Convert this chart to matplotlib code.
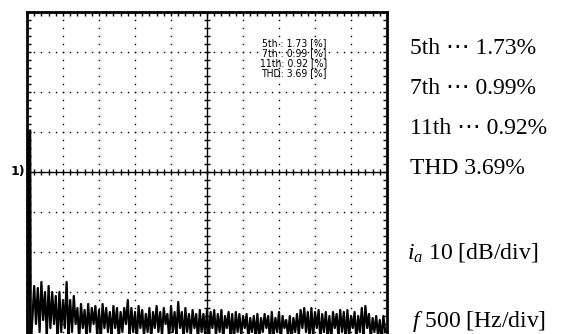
import numpy as np
import matplotlib
matplotlib.use("Agg")
import matplotlib.pyplot as plt

plt.rcParams['mathtext.fontset'] = 'custom'
plt.rcParams['mathtext.it'] = 'Liberation Serif:italic'
plt.rcParams['mathtext.rm'] = 'Liberation Serif'

# spectrum of phase current, 500 Hz/div, 10 dB/div (top of screen = 0 dB)
fund_freq = [0, 30, 36, 50, 58]
fund_db = [-82, -29.5, -81, -29.5, -82]

# peaks of the noise floor every 50 Hz from 100 Hz
noise_freq = list(range(100, 5000, 50))
noise_top = [-68.5, -69, -67.5, -70, -68.5, -70, -71, -70, -72, -67.5,
             -72, -71, -74, -73, -74.5, -73, -74, -73.5, -74.5, -73,
             -74, -75, -73.5, -74, -75, -74, -72, -74, -75, -73.5,
             -74.5, -75.5, -74, -75, -73.5, -75, -74, -75.5, -73.5, -75,
             -72.5, -75, -74, -75.5, -74.5, -75.5, -74.5, -75.5, -74.5, -75,
             -74.5, -75.5, -74.5, -76, -75, -75.5, -75, -75.5, -76, -75.5,
             -76.5, -76, -75.5, -76.5, -75.5, -76, -75, -76.5, -75, -76,
             -77, -76, -76.5, -75.5, -74.5, -74, -75, -74, -75, -74.5,
             -75.5, -75, -76, -75, -75.5, -74.5, -75, -74.5, -76, -75,
             -76, -74, -73.5, -75.5, -76.5, -76, -77, -76]
# dips between the peaks
noise_low = [-78, -80, -77, -81, -79, -78, -82, -80, -79, -81,
             -80, -78, -82, -79, -81, -80, -78, -81, -82, -79,
             -80, -81, -79, -82, -80, -78, -81, -80, -82, -79,
             -81, -80, -82, -79, -80, -81, -78, -82, -80, -81,
             -79, -82, -80, -81, -79, -82, -80, -81, -82, -79,
             -81, -80, -82, -79, -81, -82, -80, -81, -79, -82,
             -80, -81, -82, -80, -79, -82, -81, -80, -82, -79,
             -81, -82, -80, -81, -79, -80, -82, -81, -79, -82,
             -80, -81, -82, -79, -81, -80, -82, -81, -79, -82,
             -80, -81, -79, -82, -80, -81, -82, -80]

readout = ["5th : 1.73 [%]", "7th : 0.99 [%]", "11th: 0.92 [%]", "THD: 3.69 [%]"]
summary = ["5th \u22ef 1.73%", "7th \u22ef 0.99%", "11th \u22ef 0.92%", "THD 3.69%"]

W, H = 563, 334
fig = plt.figure(figsize=(W / 100, H / 100), dpi=100)
ax = fig.add_axes([27 / W, 0, 360 / W, 322 / H])
ax.set_xlim(0, 5000)
ax.set_ylim(-80.5, 0)

# trace
tr_f = list(fund_freq)
tr_d = list(fund_db)
for f, t, l in zip(noise_freq, noise_top, noise_low):
    tr_f += [f, f + 25]
    tr_d += [t, l]
ax.plot(tr_f[:5], tr_d[:5], color='black', lw=1.0, zorder=3)
ax.plot(tr_f[4:], tr_d[4:], color='black', lw=1.6, zorder=3)

# dotted graticule
for gx in range(500, 5000, 500):
    if gx == 2500:
        continue
    yy = np.arange(-80, 0.1, 2)
    ax.plot([gx] * len(yy), yy, ls='none', marker='s', ms=1.0, color='black', mew=0)
for gy in range(-70, 0, 10):
    if gy == -40:
        continue
    xx = np.arange(0, 5001, 100)
    ax.plot(xx, [gy] * len(xx), ls='none', marker='s', ms=1.0, color='black', mew=0)

# centre cross with ticks
ax.axvline(2500, color='black', lw=1.0)
ax.axhline(-40, color='black', lw=1.0)
yy = np.arange(-80, 0.1, 2)
ax.plot([2500] * len(yy), yy, ls='none', marker='_', ms=5, mew=1.0, color='black')
xx = np.arange(0, 5001, 100)
ax.plot(xx, [-40] * len(xx), ls='none', marker='|', ms=5, mew=1.0, color='black')

ax.set_xticks(range(0, 5001, 500))
ax.set_xticks(range(0, 5001, 100), minor=True)
ax.set_yticks(range(-80, 1, 10))
ax.set_yticks(range(-80, 1, 2), minor=True)
ax.tick_params(which='both', direction='in', length=3, width=1,
               top=True, right=True, bottom=False,
               labelbottom=False, labelleft=False)
for s in ['left', 'top', 'right']:
    ax.spines[s].set_linewidth(2)
ax.spines['bottom'].set_visible(False)

# on-screen readout
for i, s in enumerate(readout):
    fig.text(327 / W, 1 - (43 + 10 * i) / H, s, ha='right', va='center',
             fontsize=7.5, fontstretch='condensed', family='DejaVu Sans')

# channel marker
fig.text(18 / W, 1 - 172 / H, "1)", ha='center', va='center', fontsize=9,
         fontweight='bold')

serif = ['Liberation Serif', 'DejaVu Serif', 'DejaVu Sans']
for i, s in enumerate(summary):
    fig.text(410 / W, 1 - (48 + 40 * i) / H, s, ha='left', va='center',
             fontsize=17, family=serif)
fig.text(407 / W, 1 - 253 / H, "$i_a$ 10 [dB/div]", ha='left', va='center',
         fontsize=17, family=serif)
fig.text(412 / W, 1 - 322 / H, "$f$ 500 [Hz/div]", ha='left', va='center',
         fontsize=17, family=serif)

fig.savefig("out.png", dpi=100)
